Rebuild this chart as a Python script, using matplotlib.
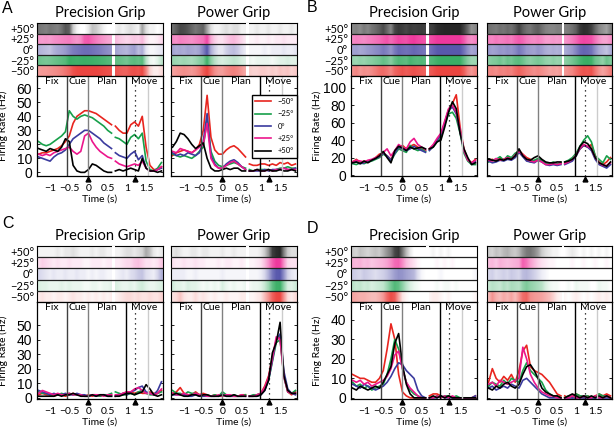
import numpy as np
import matplotlib.pyplot as plt
from matplotlib.colors import to_rgb
from matplotlib.transforms import blended_transform_factory

# bin centres (s); the trace is broken between 0.6 and 0.7 (two alignments)
t = np.linspace(-1.3, 1.9, 33)
split = 20

conditions = ["\u221250\u00b0", "\u221225\u00b0", "0\u00b0", "+25\u00b0", "+50\u00b0"]
colors = ["#e8251f", "#17a04a", "#3b3b9e", "#ec168c", "#000000"]

# firing rates (Hz), rows: -50, -25, 0, +25, +50
a_precision = [
    [13, 14, 14, 15, 16, 17, 19, 22, 26, 35, 40, 42, 44, 44, 43, 42, 40, 38, 36, 34, 33, 30, 28, 28, 34, 36, 33, 40, 18, 5, 2, 2, 4],
    [22, 20, 19, 20, 22, 24, 26, 29, 44, 40, 38, 40, 41, 40, 39, 37, 35, 33, 30, 28, 25, 24, 22, 20, 25, 27, 24, 28, 8, 2, 1, 3, 7],
    [11, 10, 9, 8, 11, 13, 14, 16, 20, 24, 26, 28, 30, 30, 28, 26, 24, 21, 19, 17, 14, 12, 11, 10, 13, 15, 9, 12, 3, 1, 1, 2, 3],
    [13, 12, 13, 12, 14, 15, 16, 17, 18, 15, 13, 15, 26, 28, 22, 18, 15, 13, 11, 10, 8, 6, 5, 4, 5, 6, 5, 8, 3, 1, 1, 2, 4],
    [17, 16, 15, 17, 16, 15, 18, 24, 22, 5, 1, 0, 0, 2, 6, 5, 3, 1, 0, 0, 1, 2, 1, 2, 3, 2, 1, 10, 3, 1, 1, 0, 1],
]
a_power = [
    [12, 14, 15, 16, 15, 14, 16, 20, 30, 55, 25, 16, 13, 13, 16, 18, 19, 17, 14, 11, 6, 5, 5, 6, 6, 5, 6, 5, 7, 6, 7, 5, 6],
    [13, 12, 11, 12, 11, 10, 12, 15, 18, 38, 15, 8, 5, 4, 5, 6, 7, 6, 4, 3, 2, 1, 2, 2, 2, 2, 1, 2, 3, 3, 4, 3, 3],
    [14, 12, 13, 12, 14, 13, 12, 14, 22, 42, 12, 6, 3, 3, 6, 8, 9, 7, 4, 2, 1, 1, 1, 1, 2, 1, 2, 2, 2, 3, 2, 2, 3],
    [15, 14, 17, 16, 15, 14, 16, 18, 20, 35, 10, 5, 3, 3, 5, 7, 8, 6, 4, 2, 1, 1, 2, 1, 1, 2, 1, 2, 2, 3, 2, 2, 2],
    [18, 22, 28, 27, 24, 20, 17, 19, 21, 10, 3, 1, 1, 2, 3, 2, 3, 3, 1, 1, 1, 1, 2, 1, 1, 2, 1, 1, 2, 1, 1, 2, 1],
]
b_precision = [
    [15, 18, 14, 16, 15, 17, 20, 24, 25, 22, 18, 26, 30, 34, 30, 33, 35, 32, 30, 28, 30, 34, 40, 45, 60, 75, 82, 92, 55, 30, 18, 14, 18],
    [13, 12, 14, 13, 15, 16, 18, 20, 24, 21, 16, 24, 30, 28, 26, 34, 30, 28, 30, 27, 29, 32, 38, 42, 58, 70, 72, 65, 48, 25, 16, 12, 12],
    [14, 15, 13, 14, 16, 17, 19, 21, 25, 22, 17, 25, 32, 30, 28, 30, 33, 30, 28, 26, 28, 33, 40, 46, 60, 74, 78, 70, 50, 28, 18, 13, 15],
    [15, 17, 16, 15, 17, 18, 20, 22, 26, 30, 22, 28, 35, 32, 30, 38, 42, 35, 32, 29, 30, 35, 42, 48, 62, 76, 80, 72, 52, 28, 17, 14, 17],
    [14, 15, 13, 16, 14, 17, 19, 22, 27, 20, 14, 28, 33, 31, 28, 32, 30, 31, 32, 30, 30, 32, 38, 40, 55, 72, 84, 76, 48, 30, 20, 12, 14],
]
b_power = [
    [17, 18, 16, 19, 18, 20, 19, 24, 28, 24, 20, 18, 16, 18, 16, 14, 12, 13, 12, 14, 14, 16, 18, 24, 30, 34, 32, 35, 22, 15, 12, 15, 20],
    [15, 17, 18, 21, 17, 22, 20, 25, 27, 22, 17, 15, 17, 19, 17, 14, 13, 15, 13, 14, 15, 17, 20, 25, 33, 40, 45, 38, 22, 18, 14, 22, 18],
    [16, 14, 15, 17, 16, 18, 17, 20, 26, 21, 16, 15, 14, 17, 15, 12, 11, 12, 11, 12, 12, 14, 16, 22, 30, 34, 32, 28, 18, 12, 10, 8, 12],
    [17, 16, 19, 17, 18, 20, 18, 23, 27, 23, 18, 16, 15, 17, 15, 12, 12, 13, 12, 13, 13, 15, 18, 23, 31, 35, 33, 30, 20, 14, 11, 11, 14],
    [18, 17, 16, 18, 17, 19, 18, 22, 30, 22, 18, 17, 20, 22, 18, 15, 14, 14, 15, 15, 15, 16, 18, 22, 33, 38, 36, 30, 20, 14, 12, 10, 15],
]
c_precision = [
    [2, 3, 2, 2, 1, 2, 2, 1, 2, 3, 2, 2, 1, 2, 1, 2, 1, 2, 1, 2, 1, 2, 3, 4, 4, 3, 4, 3, 3, 4, 3, 3, 5],
    [4, 3, 3, 2, 2, 2, 3, 2, 3, 2, 2, 2, 1, 1, 2, 2, 1, 2, 2, 3, 4, 3, 2, 2, 3, 2, 4, 5, 3, 2, 2, 3, 4],
    [5, 4, 3, 2, 3, 2, 2, 3, 2, 2, 3, 2, 2, 1, 2, 1, 2, 2, 1, 1, 1, 2, 3, 2, 4, 5, 7, 8, 4, 3, 2, 5, 11],
    [3, 5, 4, 3, 2, 3, 2, 2, 3, 2, 2, 2, 1, 1, 2, 2, 2, 1, 2, 2, 2, 2, 3, 4, 4, 6, 7, 5, 3, 3, 2, 3, 6],
    [1, 1, 1, 1, 1, 2, 1, 2, 2, 3, 2, 1, 1, 1, 2, 1, 2, 2, 1, 1, 1, 1, 2, 3, 3, 2, 3, 4, 9, 6, 2, 1, 2],
]
c_power = [
    [3, 4, 7, 3, 2, 2, 4, 2, 3, 2, 1, 2, 1, 1, 2, 1, 1, 1, 2, 2, 1, 1, 2, 3, 8, 15, 28, 40, 42, 15, 4, 2, 4],
    [5, 3, 3, 2, 4, 3, 3, 2, 1, 2, 1, 2, 1, 4, 2, 1, 2, 1, 1, 2, 1, 2, 2, 3, 6, 12, 25, 38, 40, 14, 4, 3, 5],
    [2, 2, 2, 2, 1, 1, 2, 1, 1, 1, 1, 1, 1, 2, 1, 1, 1, 1, 1, 1, 1, 1, 1, 2, 5, 12, 26, 40, 44, 18, 6, 3, 2],
    [3, 2, 2, 3, 2, 2, 3, 2, 2, 1, 1, 1, 2, 1, 2, 2, 1, 1, 2, 1, 1, 1, 2, 3, 7, 14, 27, 42, 40, 14, 4, 3, 3],
    [2, 3, 2, 1, 1, 2, 2, 1, 2, 2, 1, 1, 1, 2, 1, 1, 2, 1, 1, 1, 1, 1, 1, 2, 5, 12, 31, 38, 52, 15, 5, 3, 3],
]
d_precision = [
    [12, 11, 10, 10, 9, 8, 8, 10, 14, 25, 38, 30, 12, 3, 1, 0, 0, 0, 0, 0, 1, 2, 2, 1, 0, 1, 0, 0, 0, 0, 0, 0, 1],
    [8, 6, 7, 5, 6, 4, 5, 6, 7, 12, 20, 30, 25, 15, 8, 4, 2, 1, 0, 0, 0, 0, 1, 0, 1, 1, 0, 1, 0, 0, 0, 0, 0],
    [7, 6, 5, 7, 6, 5, 4, 5, 6, 8, 11, 15, 18, 17, 14, 12, 10, 4, 1, 0, 0, 0, 0, 1, 0, 0, 0, 0, 0, 0, 0, 0, 1],
    [9, 8, 9, 7, 8, 6, 7, 8, 9, 11, 15, 22, 24, 15, 8, 5, 3, 1, 0, 0, 0, 0, 1, 0, 1, 0, 1, 0, 0, 0, 0, 0, 0],
    [5, 4, 6, 5, 4, 5, 6, 5, 8, 12, 16, 28, 33, 17, 7, 2, 0, 0, 0, 0, 0, 1, 0, 1, 0, 1, 0, 0, 0, 0, 0, 0, 0],
]
d_power = [
    [8, 15, 10, 8, 11, 9, 12, 8, 14, 24, 27, 16, 14, 13, 12, 10, 8, 5, 2, 1, 1, 0, 1, 2, 1, 0, 1, 0, 1, 2, 1, 2, 1],
    [6, 8, 7, 6, 9, 7, 10, 9, 8, 14, 18, 14, 12, 10, 8, 4, 2, 1, 1, 0, 0, 1, 0, 2, 1, 1, 1, 0, 0, 2, 1, 1, 0],
    [5, 6, 4, 5, 6, 5, 7, 6, 5, 9, 10, 8, 6, 4, 2, 1, 0, 0, 0, 0, 0, 0, 0, 0, 0, 0, 0, 0, 0, 0, 0, 0, 0],
    [7, 8, 6, 9, 8, 7, 8, 9, 10, 26, 20, 12, 8, 5, 3, 2, 1, 1, 0, 0, 0, 0, 1, 0, 0, 1, 0, 0, 1, 0, 0, 1, 0],
    [5, 4, 6, 5, 7, 8, 6, 5, 7, 12, 16, 17, 14, 10, 5, 3, 2, 1, 1, 0, 0, 1, 2, 1, 0, 1, 0, 1, 0, 1, 0, 1, 0],
]

epochs = ["Fix", "Cue", "Plan", "Move"]
epoch_edges = [-1.34, -0.55, 0.0, 0.97, 1.94]
x_ticks = [-1, -0.5, 0, 0.5, 1, 1.5]
x_ticklabels = ["\u22121", "\u22120.5", "0", "0.5", "1", "1.5"]

plt.rcParams['font.family'] = ['Lato', 'DejaVu Sans']

W, H = 614, 428
fig = plt.figure(figsize=(W / 100, H / 100), dpi=100)


def box(l, top, r, b):
    return [l / W, 1 - b / H, (r - l) / W, (b - top) / H]


# letter, data pair, raster rows (px), psth rows (px), columns, ylim, yticks
panels = [
    ("A", (a_precision, a_power), (23, 76), (76, 176), [(37, 163), (171, 297)], (-2.6, 68.8), range(0, 61, 10)),
    ("B", (b_precision, b_power), (23, 76), (76, 176), [(351, 477), (487, 612)], (-1.1, 113.5), range(0, 101, 20)),
    ("C", (c_precision, c_power), (246, 302), (302, 399), [(37, 163), (171, 297)], (-0.9, 66), range(0, 51, 10)),
    ("D", (d_precision, d_power), (246, 302), (302, 399), [(351, 477), (487, 612)], (-0.6, 49.2), range(0, 41, 10)),
]
letter_pos = {"A": (2, 1), "B": (307, 0), "C": (2, 216), "D": (307, 221)}

for letter, pair, (rt, rb), (pt, pb), cols, ylim, yticks in panels:
    lx, ly = letter_pos[letter]
    fig.text(lx / W, 1 - ly / H, letter, fontsize=11.5, va='top', ha='left',
             family='Liberation Sans')
    for gi, (rates, (cl, cr)) in enumerate(zip(pair, cols)):
        # raster-like density strips
        axr = fig.add_axes(box(cl, rt, cr, rb))
        for k, (vals, col) in enumerate(zip(rates, colors)):
            a = np.minimum(0.85, 1 - np.exp(-np.array(vals, float) / 22.0))
            rgb = 1 - a[:, None] * (1 - np.array(to_rgb(col)))[None, :]
            axr.imshow(rgb[None, :, :], extent=[t[0] - 0.05, t[-1] + 0.05, k, k + 1],
                       aspect='auto', interpolation='bilinear')
        axr.axvspan(0.62, 0.68, color='white', zorder=3, lw=0)
        for k in range(1, 5):
            axr.axhline(k, color='#222222', lw=0.9, zorder=4)
        axr.set_xlim(-1.34, 1.94)
        axr.set_ylim(0, 5)
        axr.set_xticks([])
        axr.set_yticks(np.arange(5) + 0.5)
        if gi == 0:
            axr.set_yticklabels(conditions, fontsize=8)
        else:
            axr.set_yticklabels([])
        axr.tick_params(axis='y', length=0, pad=2)
        axr.set_title("Precision Grip" if gi == 0 else "Power Grip", fontsize=10.5, pad=4)

        # PSTH
        ax = fig.add_axes(box(cl, pt, cr, pb))
        for vals, col, lab in zip(rates, colors, conditions):
            ax.plot(t[:split], vals[:split], color=col, lw=1.2, label=lab)
            ax.plot(t[split:], vals[split:], color=col, lw=1.2)
        ax.axvline(-0.55, color='#404040', lw=1.0)
        ax.axvline(0.0, color='#808080', lw=1.0)
        ax.axvline(0.97, color='#000000', lw=1.0)
        ax.axvline(1.22, color='#000000', lw=0.9, ls=(0, (1, 3)))
        ax.axvline(1.55, color='#cccccc', lw=1.0)
        tr = blended_transform_factory(ax.transData, ax.transAxes)
        for i, name in enumerate(epochs):
            ax.text((epoch_edges[i] + epoch_edges[i + 1]) / 2, 0.985, name, transform=tr,
                    ha='center', va='top', fontsize=7.5)
        ax.plot([0, 1.22], [-0.03, -0.03], '^', color='k', ms=3.5, transform=tr,
                clip_on=False)
        ax.set_xlim(-1.34, 1.94)
        ax.set_ylim(*ylim)
        ax.set_xticks(x_ticks)
        ax.set_xticklabels(x_ticklabels, fontsize=7.5)
        ax.set_yticks(list(yticks))
        if gi == 0:
            ax.set_yticklabels([str(v) for v in yticks], fontsize=10, family='Liberation Sans')
            ax.set_ylabel("Firing Rate (Hz)", fontsize=7.5)
            ax.yaxis.set_label_coords(-0.23, 0.5)
        else:
            ax.set_yticklabels([])
        ax.tick_params(direction='in', length=2, width=0.6, top=False, right=True)
        ax.tick_params(axis='x', length=0, pad=6)
        ax.set_xlabel("Time (s)", fontsize=7.5, labelpad=1)
        for s in ax.spines.values():
            s.set_linewidth(0.9)
        if letter == "A" and gi == 1:
            ax.legend(loc='upper right', bbox_to_anchor=(1.0, 0.81), borderaxespad=0,
                      fontsize=5.5, handlelength=2.2, labelspacing=0.7,
                      fancybox=False, edgecolor='k', framealpha=1)

fig.savefig("out.png", dpi=100)
